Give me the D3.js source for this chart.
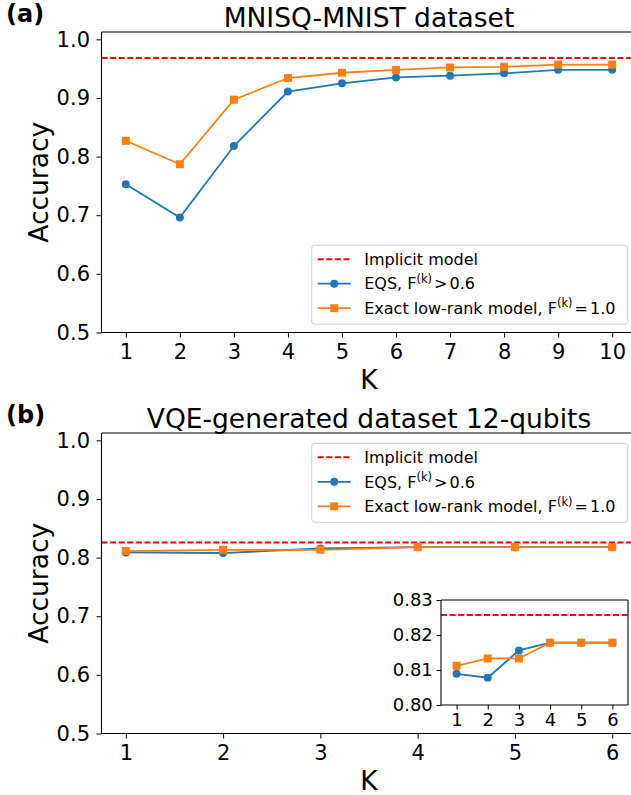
<!DOCTYPE html>
<html>
<head>
<meta charset="utf-8">
<script src="https://cdn.jsdelivr.net/npm/d3@7"></script>
<style>
  body { margin: 0; background: #fff; }
  svg { display: block; font-family: "DejaVu Sans", sans-serif; }
  .axis text { fill: #000; font-family: "DejaVu Sans", sans-serif; }
  .axis line { stroke: #000; stroke-width: 1; }
</style>
</head>
<body>
<svg id="fig" width="631" height="795"></svg>
<script>
// panel (a) MNISQ-MNIST
const kTop = [1, 2, 3, 4, 5, 6, 7, 8, 9, 10];
const eqsTop = [0.753, 0.696, 0.818, 0.911, 0.925, 0.935, 0.938, 0.942, 0.948, 0.948];
const exactTop = [0.827, 0.787, 0.897, 0.934, 0.943, 0.948, 0.952, 0.953, 0.957, 0.957];
const implicitTop = 0.968;

// panel (b) VQE 12 qubits
const kBottom = [1, 2, 3, 4, 5, 6];
const eqsBottom = [0.8089, 0.8078, 0.8156, 0.8178, 0.8178, 0.8178];
const exactBottom = [0.8112, 0.8133, 0.8133, 0.8178, 0.8178, 0.8178];
const implicitBottom = 0.8257;

const yTicksMain = [0.5, 0.6, 0.7, 0.8, 0.9, 1.0];
const yTicksInset = [0.80, 0.81, 0.82, 0.83];

const BLUE = '#1f77b4', ORANGE = '#ff7f0e', RED = '#ff0000';

const svg = d3.select('#fig');

// draws one set of axes with the two series and the implicit line
function drawPanel(cfg) {
    const g = svg.append('g');
    const x = d3.scaleLinear().domain(cfg.xDomain).range([cfg.left, cfg.right]);
    const y = d3.scaleLinear().domain(cfg.yDomain).range([cfg.bottom, cfg.top]);

    if (cfg.background) {
        g.append('rect')
            .attr('x', cfg.left).attr('y', cfg.top)
            .attr('width', cfg.right - cfg.left).attr('height', cfg.bottom - cfg.top)
            .attr('fill', '#fff');
    }

    // axes
    const xAxis = d3.axisBottom(x).tickValues(cfg.xTicks).tickFormat(d3.format('d'))
        .tickSize(cfg.tickSize).tickPadding(cfg.tickPadding);
    const yAxis = d3.axisLeft(y).tickValues(cfg.yTicks).tickFormat(d3.format(cfg.yFormat))
        .tickSize(cfg.tickSize).tickPadding(cfg.tickPadding);

    const xg = g.append('g').attr('class', 'axis')
        .attr('transform', `translate(0,${cfg.bottom})`).call(xAxis);
    const yg = g.append('g').attr('class', 'axis')
        .attr('transform', `translate(${cfg.left},0)`).call(yAxis);
    xg.select('.domain').remove();
    yg.select('.domain').remove();
    xg.selectAll('text').attr('font-size', cfg.fontSize);
    yg.selectAll('text').attr('font-size', cfg.fontSize);

    // implicit model
    g.append('line')
        .attr('x1', cfg.left).attr('x2', cfg.right)
        .attr('y1', y(cfg.implicit)).attr('y2', y(cfg.implicit))
        .attr('stroke', RED).attr('stroke-width', 2)
        .attr('stroke-dasharray', '6,2.6');

    const line = d3.line().x(d => x(d[0])).y(d => y(d[1]));
    const eqsPts = cfg.k.map((k, i) => [k, cfg.eqs[i]]);
    const exactPts = cfg.k.map((k, i) => [k, cfg.exact[i]]);

    g.append('path').datum(eqsPts).attr('d', line)
        .attr('fill', 'none').attr('stroke', BLUE).attr('stroke-width', 1.8);
    g.selectAll('circle.eqs').data(eqsPts).enter().append('circle')
        .attr('class', 'eqs')
        .attr('cx', d => x(d[0])).attr('cy', d => y(d[1])).attr('r', 4)
        .attr('fill', BLUE);

    g.append('path').datum(exactPts).attr('d', line)
        .attr('fill', 'none').attr('stroke', ORANGE).attr('stroke-width', 1.8);
    g.selectAll('rect.exact').data(exactPts).enter().append('rect')
        .attr('class', 'exact')
        .attr('x', d => x(d[0]) - 4).attr('y', d => y(d[1]) - 4)
        .attr('width', 8).attr('height', 8)
        .attr('fill', ORANGE);

    // spines
    const spines = [
        [cfg.left, cfg.top, cfg.left, cfg.bottom],
        [cfg.left, cfg.bottom, cfg.right, cfg.bottom],
        [cfg.left, cfg.top, cfg.right, cfg.top],
        [cfg.right, cfg.top, cfg.right, cfg.bottom]
    ];
    g.selectAll('line.spine').data(spines).enter().append('line')
        .attr('class', 'spine')
        .attr('x1', d => d[0]).attr('y1', d => d[1])
        .attr('x2', d => d[2]).attr('y2', d => d[3])
        .attr('stroke', '#000').attr('stroke-width', 1.1);

    return {x, y};
}

function drawLegend(lx, ly) {
    const g = svg.append('g').attr('transform', `translate(${lx},${ly})`);
    g.append('rect')
        .attr('x', 0).attr('y', 0).attr('width', 316).attr('height', 79)
        .attr('rx', 3)
        .attr('fill', '#fff').attr('fill-opacity', 0.85)
        .attr('stroke', '#d0d0d0').attr('stroke-width', 1);

    const rows = [14, 38.5, 63];

    // implicit
    g.append('line').attr('x1', 6).attr('x2', 39).attr('y1', rows[0]).attr('y2', rows[0])
        .attr('stroke', RED).attr('stroke-width', 2).attr('stroke-dasharray', '6,2.6');
    // eqs
    g.append('line').attr('x1', 6).attr('x2', 39).attr('y1', rows[1]).attr('y2', rows[1])
        .attr('stroke', BLUE).attr('stroke-width', 1.8);
    g.append('circle').attr('cx', 22.5).attr('cy', rows[1]).attr('r', 4).attr('fill', BLUE);
    // exact
    g.append('line').attr('x1', 6).attr('x2', 39).attr('y1', rows[2]).attr('y2', rows[2])
        .attr('stroke', ORANGE).attr('stroke-width', 1.8);
    g.append('rect').attr('x', 18.5).attr('y', rows[2] - 4).attr('width', 8).attr('height', 8)
        .attr('fill', ORANGE);

    const tx = 52.5;
    g.append('text').attr('x', tx).attr('y', rows[0] + 5.8)
        .attr('font-size', 16).text('Implicit model');

    const t1 = g.append('text').attr('x', tx).attr('y', rows[1] + 5.8).attr('font-size', 16);
    t1.append('tspan').text('EQS, F');
    t1.append('tspan').attr('dy', -6.5).attr('font-size', 11.5).text('(k)');
    t1.append('tspan').attr('dy', 6.5).attr('dx', 2).text('>');
    t1.append('tspan').attr('dx', 2).text('0.6');

    const t2 = g.append('text').attr('x', tx).attr('y', rows[2] + 5.8).attr('font-size', 16);
    t2.append('tspan').text('Exact low-rank model, F');
    t2.append('tspan').attr('dy', -6.5).attr('font-size', 11.5).text('(k)');
    t2.append('tspan').attr('dy', 6.5).attr('dx', 2).text('=');
    t2.append('tspan').attr('dx', 2).text('1.0');
}

function drawLabels(offset, title, tag, left, right, top, bottom) {
    const cx = (left + right) / 2;
    svg.append('text').attr('x', cx).attr('y', top - 5.5)
        .attr('text-anchor', 'middle').attr('font-size', 26.5).text(title);
    svg.append('text').attr('x', 6).attr('y', offset + 22)
        .attr('font-size', 24).attr('font-weight', 'bold').text(tag);
    svg.append('text').attr('x', cx).attr('y', bottom + 56)
        .attr('text-anchor', 'middle').attr('font-size', 26.5).text('K');
    svg.append('text')
        .attr('transform', `translate(47.5,${(top + bottom) / 2}) rotate(-90)`)
        .attr('text-anchor', 'middle').attr('font-size', 26.5).text('Accuracy');
}

// (a)
drawPanel({
    left: 101.5, right: 636.5, top: 32, bottom: 332.5,
    xDomain: [0.55, 10.45], yDomain: [0.5, 1.0125],
    xTicks: kTop, yTicks: yTicksMain, yFormat: '.1f',
    tickSize: 5, tickPadding: 6.5, fontSize: 21,
    k: kTop, eqs: eqsTop, exact: exactTop, implicit: implicitTop
});
drawLegend(311.7, 245.2);
drawLabels(0, 'MNISQ-MNIST dataset', '(a)', 101.5, 636.5, 32, 332.5);

// (b)
drawPanel({
    left: 101.5, right: 636.5, top: 433, bottom: 733.5,
    xDomain: [0.75, 6.25], yDomain: [0.5, 1.0125],
    xTicks: kBottom, yTicks: yTicksMain, yFormat: '.1f',
    tickSize: 5, tickPadding: 6.5, fontSize: 21,
    k: kBottom, eqs: eqsBottom, exact: exactBottom, implicit: implicitBottom
});
drawLegend(311.7, 443.3);
drawLabels(401, 'VQE-generated dataset 12-qubits', '(b)', 101.5, 636.5, 433, 733.5);

// inset of (b)
drawPanel({
    left: 441, right: 628, top: 600, bottom: 705, background: true,
    xDomain: [0.5, 6.5], yDomain: [0.80, 0.83],
    xTicks: kBottom, yTicks: yTicksInset, yFormat: '.2f',
    tickSize: 4.5, tickPadding: 3.7, fontSize: 18,
    k: kBottom, eqs: eqsBottom, exact: exactBottom, implicit: implicitBottom
});
</script>
</body>
</html>
